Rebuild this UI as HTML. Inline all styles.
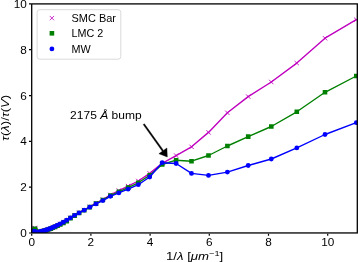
<!DOCTYPE html>
<html><head><meta charset="utf-8"><style>
html,body{margin:0;padding:0;background:#fff;}
svg{display:block;will-change:transform;}
text{font-family:"Liberation Sans",sans-serif;fill:#000;}
</style></head><body>
<svg width="358" height="262" viewBox="0 0 358 262">
<rect width="358" height="262" fill="#fff"/>
<defs><clipPath id="ax"><rect x="31.7" y="3.9" width="325.6" height="229.1"/></clipPath></defs>
<g clip-path="url(#ax)">
<polyline points="356.3,19.7 325.0,38.2 296.8,63.1 271.3,82.0 248.2,96.6 227.4,112.8 208.5,132.4 191.5,146.8 176.1,155.6 162.2,163.3 149.7,173.4 138.3,181.0 128.1,186.1 118.8,190.6 110.4,194.8 102.8,199.6 96.0,203.2 89.8,206.8 84.2,210.0 79.1,212.7 74.6,215.3 70.5,217.8 66.7,220.2 63.4,222.2 60.3,223.8 57.6,225.2 55.1,226.4 52.8,227.4 50.8,228.3 48.9,229.0 47.3,229.6 45.8,230.2 44.4,230.6 43.2,231.0 42.1,231.3 41.1,231.5 40.2,231.8 39.4,232.0 38.6,232.1 38.0,232.3 37.4,232.4 36.8,232.4 36.3,232.3 35.9,231.6 35.5,230.3 35.1,228.7 34.8,227.9 34.5,228.6 34.2,230.1 34.0,231.3 33.8,231.9 33.6,231.9 33.4,231.9 33.2,231.9 33.1,232.1 32.9,232.4 32.8,232.6 32.7,232.8 32.6,232.9 32.5,232.9 32.4,233.0 32.4,233.0 32.3,233.0 32.3,233.0 32.2,233.0 32.2,233.0 32.1,233.0 32.1,233.0 32.0,233.0 32.0,233.0 32.0,233.0 31.9,233.0 31.9,233.0 31.9,233.0 31.9,233.0 31.9,233.0 31.8,233.0 31.8,233.0 31.8,233.0 31.8,233.0 31.8,233.0 31.8,233.0 31.8,233.0 31.8,233.0 31.8,233.0 31.8,233.0 31.8,233.0 31.7,233.0 31.7,233.0 31.7,233.0 31.7,233.0 31.7,233.0 31.7,233.0 31.7,233.0 31.7,233.0" fill="none" stroke="#bf00bf" stroke-width="1.38" stroke-linejoin="round"/>
<path d="M354.1,17.6L358.4,21.8M354.1,21.8L358.4,17.6M322.9,36.1L327.2,40.4M322.9,40.4L327.2,36.1M294.6,61.0L298.9,65.2M294.6,65.2L298.9,61.0M269.1,79.8L273.4,84.2M269.1,84.2L273.4,79.8M246.1,94.4L250.4,98.8M246.1,98.8L250.4,94.4M225.2,110.6L229.5,115.0M225.2,115.0L229.5,110.6M206.4,130.2L210.7,134.6M206.4,134.6L210.7,130.2M189.4,144.7L193.7,149.0M189.4,149.0L193.7,144.7M174.0,153.4L178.3,157.8M174.0,157.8L178.3,153.4M160.1,161.2L164.4,165.5M160.1,165.5L164.4,161.2M147.5,171.2L151.8,175.6M147.5,175.6L151.8,171.2M136.2,178.8L140.5,183.2M136.2,183.2L140.5,178.8M125.9,183.9L130.2,188.2M125.9,188.2L130.2,183.9M116.6,188.4L120.9,192.8M116.6,192.8L120.9,188.4M108.3,192.7L112.6,197.0M108.3,197.0L112.6,192.7M100.7,197.4L105.0,201.8M100.7,201.8L105.0,197.4M93.8,201.0L98.1,205.3M93.8,205.3L98.1,201.0M87.6,204.7L91.9,209.0M87.6,209.0L91.9,204.7M82.1,207.8L86.4,212.2M82.1,212.2L86.4,207.8M77.0,210.5L81.3,214.8M77.0,214.8L81.3,210.5M72.4,213.2L76.7,217.5M72.4,217.5L76.7,213.2M68.3,215.7L72.6,220.0M68.3,220.0L72.6,215.7M64.6,218.1L68.9,222.4M64.6,222.4L68.9,218.1M61.2,220.0L65.5,224.3M61.2,224.3L65.5,220.0M58.2,221.7L62.5,226.0M58.2,226.0L62.5,221.7M55.4,223.1L59.7,227.4M55.4,227.4L59.7,223.1M52.9,224.3L57.2,228.6M52.9,228.6L57.2,224.3M50.7,225.3L55.0,229.6M50.7,229.6L55.0,225.3M48.6,226.2L52.9,230.5M48.6,230.5L52.9,226.2M46.8,226.9L51.1,231.2M46.8,231.2L51.1,226.9M45.1,227.5L49.4,231.8M45.1,231.8L49.4,227.5M43.6,228.0L47.9,232.3M43.6,232.3L47.9,228.0M42.3,228.4L46.6,232.7M42.3,232.7L46.6,228.4M41.1,228.8L45.4,233.1M41.1,233.1L45.4,228.8M39.9,229.1L44.2,233.4M39.9,233.4L44.2,229.1M38.9,229.4L43.2,233.7M38.9,233.7L43.2,229.4M38.0,229.6L42.3,233.9M38.0,233.9L42.3,229.6M37.2,229.8L41.5,234.1M37.2,234.1L41.5,229.8M36.5,230.0L40.8,234.3M36.5,234.3L40.8,230.0M35.8,230.1L40.1,234.4M35.8,234.4L40.1,230.1M35.2,230.2L39.5,234.5M35.2,234.5L39.5,230.2M34.7,230.3L39.0,234.6M34.7,234.6L39.0,230.3M34.2,230.1L38.5,234.4M34.2,234.4L38.5,230.1M33.7,229.5L38.0,233.8M33.7,233.8L38.0,229.5M33.3,228.2L37.6,232.5M33.3,232.5L37.6,228.2M33.0,226.6L37.3,230.9M33.0,230.9L37.3,226.6M32.6,225.8L36.9,230.1M32.6,230.1L36.9,225.8M32.3,226.4L36.6,230.7M32.3,230.7L36.6,226.4M32.1,228.0L36.4,232.3M32.1,232.3L36.4,228.0M31.8,229.2L36.1,233.5M31.8,233.5L36.1,229.2M31.6,229.7L35.9,234.0M31.6,234.0L35.9,229.7M31.4,229.8L35.7,234.1M31.4,234.1L35.7,229.8M31.2,229.7L35.5,234.0M31.2,234.0L35.5,229.7M31.1,229.8L35.4,234.1M31.1,234.1L35.4,229.8M30.9,230.0L35.2,234.3M30.9,234.3L35.2,230.0M30.8,230.3L35.1,234.6M30.8,234.6L35.1,230.3M30.7,230.5L35.0,234.8M30.7,234.8L35.0,230.5M30.6,230.7L34.9,235.0M30.6,235.0L34.9,230.7M30.5,230.8L34.8,235.1M30.5,235.1L34.8,230.8M30.4,230.8L34.7,235.1M30.4,235.1L34.7,230.8M30.3,230.8L34.6,235.1M30.3,235.1L34.6,230.8M30.2,230.8L34.5,235.1M30.2,235.1L34.5,230.8M30.2,230.8L34.5,235.1M30.2,235.1L34.5,230.8M30.1,230.8L34.4,235.1M30.1,235.1L34.4,230.8M30.0,230.8L34.3,235.1M30.0,235.1L34.3,230.8M30.0,230.8L34.3,235.1M30.0,235.1L34.3,230.8M30.0,230.8L34.3,235.1M30.0,235.1L34.3,230.8M29.9,230.8L34.2,235.1M29.9,235.1L34.2,230.8M29.9,230.8L34.2,235.1M29.9,235.1L34.2,230.8M29.9,230.8L34.2,235.1M29.9,235.1L34.2,230.8M29.8,230.8L34.1,235.1M29.8,235.1L34.1,230.8M29.8,230.8L34.1,235.1M29.8,235.1L34.1,230.8M29.8,230.8L34.1,235.1M29.8,235.1L34.1,230.8M29.8,230.8L34.1,235.1M29.8,235.1L34.1,230.8M29.7,230.8L34.0,235.1M29.7,235.1L34.0,230.8M29.7,230.8L34.0,235.1M29.7,235.1L34.0,230.8M29.7,230.8L34.0,235.1M29.7,235.1L34.0,230.8M29.7,230.8L34.0,235.1M29.7,235.1L34.0,230.8M29.7,230.8L34.0,235.1M29.7,235.1L34.0,230.8M29.7,230.8L34.0,235.1M29.7,235.1L34.0,230.8M29.6,230.8L33.9,235.1M29.6,235.1L33.9,230.8M29.6,230.8L33.9,235.1M29.6,235.1L33.9,230.8M29.6,230.8L33.9,235.1M29.6,235.1L33.9,230.8M29.6,230.8L33.9,235.1M29.6,235.1L33.9,230.8M29.6,230.8L33.9,235.1M29.6,235.1L33.9,230.8M29.6,230.8L33.9,235.1M29.6,235.1L33.9,230.8M29.6,230.8L33.9,235.1M29.6,235.1L33.9,230.8M29.6,230.8L33.9,235.1M29.6,235.1L33.9,230.8M29.6,230.8L33.9,235.1M29.6,235.1L33.9,230.8M29.6,230.8L33.9,235.1M29.6,235.1L33.9,230.8M29.6,230.8L33.9,235.1M29.6,235.1L33.9,230.8M29.6,230.8L33.9,235.1M29.6,235.1L33.9,230.8M29.6,230.8L33.9,235.1M29.6,235.1L33.9,230.8M29.6,230.8L33.9,235.1M29.6,235.1L33.9,230.8M29.6,230.8L33.9,235.1M29.6,235.1L33.9,230.8" stroke="#bf00bf" stroke-width="0.9" fill="none"/>
<polyline points="356.3,76.0 325.0,92.3 296.8,111.8 271.3,126.5 248.2,136.6 227.4,146.0 208.5,155.5 191.5,161.2 176.1,160.2 162.2,164.5 149.7,175.2 138.3,182.8 128.1,187.6 118.8,191.8 110.4,195.6 102.8,200.0 96.0,203.6 89.8,207.1 84.2,210.3 79.1,213.0 74.6,215.6 70.5,218.1 66.7,221.1 63.4,222.9 60.3,224.5 57.6,225.8 55.1,226.9 52.8,227.8 50.8,228.6 48.9,229.3 47.3,229.9 45.8,230.4 44.4,230.8 43.2,231.1 42.1,231.4 41.1,231.6 40.2,231.9 39.4,232.0 38.6,232.2 38.0,232.3 37.4,232.4 36.8,232.4 36.3,232.3 35.9,231.8 35.5,230.7 35.1,229.4 34.8,228.7 34.5,229.3 34.2,230.5 34.0,231.5 33.8,231.9 33.6,231.9 33.4,231.9 33.2,232.0 33.1,232.1 32.9,232.4 32.8,232.6 32.7,232.8 32.6,232.9 32.5,233.0 32.4,233.0 32.4,233.0 32.3,233.0 32.3,233.0 32.2,233.0 32.2,233.0 32.1,233.0 32.1,233.0 32.0,233.0 32.0,233.0 32.0,233.0 31.9,233.0 31.9,233.0 31.9,233.0 31.9,233.0 31.9,233.0 31.8,233.0 31.8,233.0 31.8,233.0 31.8,233.0 31.8,233.0 31.8,233.0 31.8,233.0 31.8,233.0 31.8,233.0 31.8,233.0 31.8,233.0 31.7,233.0 31.7,233.0 31.7,233.0 31.7,233.0 31.7,233.0 31.7,233.0 31.7,233.0 31.7,233.0" fill="none" stroke="#008000" stroke-width="1.38" stroke-linejoin="round"/>
<path d="M354.0,73.7h4.6v4.6h-4.6zM322.7,90.0h4.6v4.6h-4.6zM294.5,109.5h4.6v4.6h-4.6zM269.0,124.2h4.6v4.6h-4.6zM245.9,134.3h4.6v4.6h-4.6zM225.1,143.7h4.6v4.6h-4.6zM206.2,153.2h4.6v4.6h-4.6zM189.2,158.9h4.6v4.6h-4.6zM173.8,157.9h4.6v4.6h-4.6zM159.9,162.2h4.6v4.6h-4.6zM147.4,172.9h4.6v4.6h-4.6zM136.0,180.5h4.6v4.6h-4.6zM125.8,185.3h4.6v4.6h-4.6zM116.5,189.5h4.6v4.6h-4.6zM108.1,193.3h4.6v4.6h-4.6zM100.5,197.7h4.6v4.6h-4.6zM93.7,201.3h4.6v4.6h-4.6zM87.5,204.8h4.6v4.6h-4.6zM81.9,208.0h4.6v4.6h-4.6zM76.8,210.7h4.6v4.6h-4.6zM72.3,213.3h4.6v4.6h-4.6zM68.2,215.8h4.6v4.6h-4.6zM64.4,218.8h4.6v4.6h-4.6zM61.1,220.6h4.6v4.6h-4.6zM58.0,222.2h4.6v4.6h-4.6zM55.3,223.5h4.6v4.6h-4.6zM52.8,224.6h4.6v4.6h-4.6zM50.5,225.5h4.6v4.6h-4.6zM48.5,226.3h4.6v4.6h-4.6zM46.6,227.0h4.6v4.6h-4.6zM45.0,227.6h4.6v4.6h-4.6zM43.5,228.1h4.6v4.6h-4.6zM42.1,228.5h4.6v4.6h-4.6zM40.9,228.8h4.6v4.6h-4.6zM39.8,229.1h4.6v4.6h-4.6zM38.8,229.3h4.6v4.6h-4.6zM37.9,229.6h4.6v4.6h-4.6zM37.1,229.7h4.6v4.6h-4.6zM36.3,229.9h4.6v4.6h-4.6zM35.7,230.0h4.6v4.6h-4.6zM35.1,230.1h4.6v4.6h-4.6zM34.5,230.1h4.6v4.6h-4.6zM34.0,230.0h4.6v4.6h-4.6zM33.6,229.5h4.6v4.6h-4.6zM33.2,228.4h4.6v4.6h-4.6zM32.8,227.1h4.6v4.6h-4.6zM32.5,226.4h4.6v4.6h-4.6zM32.2,227.0h4.6v4.6h-4.6zM31.9,228.2h4.6v4.6h-4.6zM31.7,229.2h4.6v4.6h-4.6zM31.5,229.6h4.6v4.6h-4.6zM31.3,229.6h4.6v4.6h-4.6zM31.1,229.6h4.6v4.6h-4.6zM30.9,229.7h4.6v4.6h-4.6zM30.8,229.8h4.6v4.6h-4.6zM30.6,230.1h4.6v4.6h-4.6zM30.5,230.3h4.6v4.6h-4.6zM30.4,230.5h4.6v4.6h-4.6zM30.3,230.6h4.6v4.6h-4.6zM30.2,230.7h4.6v4.6h-4.6zM30.1,230.7h4.6v4.6h-4.6zM30.1,230.7h4.6v4.6h-4.6zM30.0,230.7h4.6v4.6h-4.6zM30.0,230.7h4.6v4.6h-4.6zM29.9,230.7h4.6v4.6h-4.6zM29.9,230.7h4.6v4.6h-4.6zM29.8,230.7h4.6v4.6h-4.6zM29.8,230.7h4.6v4.6h-4.6zM29.7,230.7h4.6v4.6h-4.6zM29.7,230.7h4.6v4.6h-4.6zM29.7,230.7h4.6v4.6h-4.6zM29.6,230.7h4.6v4.6h-4.6zM29.6,230.7h4.6v4.6h-4.6zM29.6,230.7h4.6v4.6h-4.6zM29.6,230.7h4.6v4.6h-4.6zM29.6,230.7h4.6v4.6h-4.6zM29.5,230.7h4.6v4.6h-4.6zM29.5,230.7h4.6v4.6h-4.6zM29.5,230.7h4.6v4.6h-4.6zM29.5,230.7h4.6v4.6h-4.6zM29.5,230.7h4.6v4.6h-4.6zM29.5,230.7h4.6v4.6h-4.6zM29.5,230.7h4.6v4.6h-4.6zM29.5,230.7h4.6v4.6h-4.6zM29.5,230.7h4.6v4.6h-4.6zM29.5,230.7h4.6v4.6h-4.6zM29.5,230.7h4.6v4.6h-4.6zM29.4,230.7h4.6v4.6h-4.6zM29.4,230.7h4.6v4.6h-4.6zM29.4,230.7h4.6v4.6h-4.6zM29.4,230.7h4.6v4.6h-4.6zM29.4,230.7h4.6v4.6h-4.6zM29.4,230.7h4.6v4.6h-4.6zM29.4,230.7h4.6v4.6h-4.6zM29.4,230.7h4.6v4.6h-4.6z" fill="#008000"/>
<polyline points="356.3,122.7 325.0,134.5 296.8,147.9 271.3,159.0 248.2,165.5 227.4,172.1 208.5,175.4 191.5,173.4 176.1,163.5 162.2,162.7 149.7,177.0 138.3,184.7 128.1,189.2 118.8,192.9 110.4,196.3 102.8,200.6 96.0,203.9 89.8,207.2 84.2,210.2 79.1,212.8 74.6,215.3 70.5,217.8 66.7,220.2 63.4,222.2 60.3,223.8 57.6,225.2 55.1,226.4 52.8,227.4 50.8,228.3 48.9,229.0 47.3,229.6 45.8,230.2 44.4,230.6 43.2,231.0 42.1,231.3 41.1,231.5 40.2,231.8 39.4,232.0 38.6,232.1 38.0,232.3 37.4,232.4 36.8,232.4 36.3,232.5 35.9,232.3 35.5,232.0 35.1,231.6 34.8,231.4 34.5,231.5 34.2,231.8 34.0,232.1 33.8,232.1 33.6,232.0 33.4,231.9 33.2,231.9 33.1,232.1 32.9,232.4 32.8,232.6 32.7,232.8 32.6,232.9 32.5,232.9 32.4,233.0 32.4,233.0 32.3,233.0 32.3,233.0 32.2,233.0 32.2,233.0 32.1,233.0 32.1,233.0 32.0,233.0 32.0,233.0 32.0,233.0 31.9,233.0 31.9,233.0 31.9,233.0 31.9,233.0 31.9,233.0 31.8,233.0 31.8,233.0 31.8,233.0 31.8,233.0 31.8,233.0 31.8,233.0 31.8,233.0 31.8,233.0 31.8,233.0 31.8,233.0 31.8,233.0 31.7,233.0 31.7,233.0 31.7,233.0 31.7,233.0 31.7,233.0 31.7,233.0 31.7,233.0 31.7,233.0" fill="none" stroke="#0000ff" stroke-width="1.38" stroke-linejoin="round"/>
<circle cx="356.3" cy="122.7" r="2.40" fill="#0000ff"/>
<circle cx="325.0" cy="134.5" r="2.40" fill="#0000ff"/>
<circle cx="296.8" cy="147.9" r="2.40" fill="#0000ff"/>
<circle cx="271.3" cy="159.0" r="2.40" fill="#0000ff"/>
<circle cx="248.2" cy="165.5" r="2.40" fill="#0000ff"/>
<circle cx="227.4" cy="172.1" r="2.40" fill="#0000ff"/>
<circle cx="208.5" cy="175.4" r="2.40" fill="#0000ff"/>
<circle cx="191.5" cy="173.4" r="2.40" fill="#0000ff"/>
<circle cx="176.1" cy="163.5" r="2.40" fill="#0000ff"/>
<circle cx="162.2" cy="162.7" r="2.40" fill="#0000ff"/>
<circle cx="149.7" cy="177.0" r="2.40" fill="#0000ff"/>
<circle cx="138.3" cy="184.7" r="2.40" fill="#0000ff"/>
<circle cx="128.1" cy="189.2" r="2.40" fill="#0000ff"/>
<circle cx="118.8" cy="192.9" r="2.40" fill="#0000ff"/>
<circle cx="110.4" cy="196.3" r="2.40" fill="#0000ff"/>
<circle cx="102.8" cy="200.6" r="2.40" fill="#0000ff"/>
<circle cx="96.0" cy="203.9" r="2.40" fill="#0000ff"/>
<circle cx="89.8" cy="207.2" r="2.40" fill="#0000ff"/>
<circle cx="84.2" cy="210.2" r="2.40" fill="#0000ff"/>
<circle cx="79.1" cy="212.8" r="2.40" fill="#0000ff"/>
<circle cx="74.6" cy="215.3" r="2.40" fill="#0000ff"/>
<circle cx="70.5" cy="217.8" r="2.40" fill="#0000ff"/>
<circle cx="66.7" cy="220.2" r="2.40" fill="#0000ff"/>
<circle cx="63.4" cy="222.2" r="2.40" fill="#0000ff"/>
<circle cx="60.3" cy="223.8" r="2.40" fill="#0000ff"/>
<circle cx="57.6" cy="225.2" r="2.40" fill="#0000ff"/>
<circle cx="55.1" cy="226.4" r="2.40" fill="#0000ff"/>
<circle cx="52.8" cy="227.4" r="2.40" fill="#0000ff"/>
<circle cx="50.8" cy="228.3" r="2.40" fill="#0000ff"/>
<circle cx="48.9" cy="229.0" r="2.40" fill="#0000ff"/>
<circle cx="47.3" cy="229.6" r="2.40" fill="#0000ff"/>
<circle cx="45.8" cy="230.2" r="2.40" fill="#0000ff"/>
<circle cx="44.4" cy="230.6" r="2.40" fill="#0000ff"/>
<circle cx="43.2" cy="231.0" r="2.40" fill="#0000ff"/>
<circle cx="42.1" cy="231.3" r="2.40" fill="#0000ff"/>
<circle cx="41.1" cy="231.5" r="2.40" fill="#0000ff"/>
<circle cx="40.2" cy="231.8" r="2.40" fill="#0000ff"/>
<circle cx="39.4" cy="232.0" r="2.40" fill="#0000ff"/>
<circle cx="38.6" cy="232.1" r="2.40" fill="#0000ff"/>
<circle cx="38.0" cy="232.3" r="2.40" fill="#0000ff"/>
<circle cx="37.4" cy="232.4" r="2.40" fill="#0000ff"/>
<circle cx="36.8" cy="232.4" r="2.40" fill="#0000ff"/>
<circle cx="36.3" cy="232.5" r="2.40" fill="#0000ff"/>
<circle cx="35.9" cy="232.3" r="2.40" fill="#0000ff"/>
<circle cx="35.5" cy="232.0" r="2.40" fill="#0000ff"/>
<circle cx="35.1" cy="231.6" r="2.40" fill="#0000ff"/>
<circle cx="34.8" cy="231.4" r="2.40" fill="#0000ff"/>
<circle cx="34.5" cy="231.5" r="2.40" fill="#0000ff"/>
<circle cx="34.2" cy="231.8" r="2.40" fill="#0000ff"/>
<circle cx="34.0" cy="232.1" r="2.40" fill="#0000ff"/>
<circle cx="33.8" cy="232.1" r="2.40" fill="#0000ff"/>
<circle cx="33.6" cy="232.0" r="2.40" fill="#0000ff"/>
<circle cx="33.4" cy="231.9" r="2.40" fill="#0000ff"/>
<circle cx="33.2" cy="231.9" r="2.40" fill="#0000ff"/>
<circle cx="33.1" cy="232.1" r="2.40" fill="#0000ff"/>
<circle cx="32.9" cy="232.4" r="2.40" fill="#0000ff"/>
<circle cx="32.8" cy="232.6" r="2.40" fill="#0000ff"/>
<circle cx="32.7" cy="232.8" r="2.40" fill="#0000ff"/>
<circle cx="32.6" cy="232.9" r="2.40" fill="#0000ff"/>
<circle cx="32.5" cy="232.9" r="2.40" fill="#0000ff"/>
<circle cx="32.4" cy="233.0" r="2.40" fill="#0000ff"/>
<circle cx="32.4" cy="233.0" r="2.40" fill="#0000ff"/>
<circle cx="32.3" cy="233.0" r="2.40" fill="#0000ff"/>
<circle cx="32.3" cy="233.0" r="2.40" fill="#0000ff"/>
<circle cx="32.2" cy="233.0" r="2.40" fill="#0000ff"/>
<circle cx="32.2" cy="233.0" r="2.40" fill="#0000ff"/>
<circle cx="32.1" cy="233.0" r="2.40" fill="#0000ff"/>
<circle cx="32.1" cy="233.0" r="2.40" fill="#0000ff"/>
<circle cx="32.0" cy="233.0" r="2.40" fill="#0000ff"/>
<circle cx="32.0" cy="233.0" r="2.40" fill="#0000ff"/>
<circle cx="32.0" cy="233.0" r="2.40" fill="#0000ff"/>
<circle cx="31.9" cy="233.0" r="2.40" fill="#0000ff"/>
<circle cx="31.9" cy="233.0" r="2.40" fill="#0000ff"/>
<circle cx="31.9" cy="233.0" r="2.40" fill="#0000ff"/>
<circle cx="31.9" cy="233.0" r="2.40" fill="#0000ff"/>
<circle cx="31.9" cy="233.0" r="2.40" fill="#0000ff"/>
<circle cx="31.8" cy="233.0" r="2.40" fill="#0000ff"/>
<circle cx="31.8" cy="233.0" r="2.40" fill="#0000ff"/>
<circle cx="31.8" cy="233.0" r="2.40" fill="#0000ff"/>
<circle cx="31.8" cy="233.0" r="2.40" fill="#0000ff"/>
<circle cx="31.8" cy="233.0" r="2.40" fill="#0000ff"/>
<circle cx="31.8" cy="233.0" r="2.40" fill="#0000ff"/>
<circle cx="31.8" cy="233.0" r="2.40" fill="#0000ff"/>
<circle cx="31.8" cy="233.0" r="2.40" fill="#0000ff"/>
<circle cx="31.8" cy="233.0" r="2.40" fill="#0000ff"/>
<circle cx="31.8" cy="233.0" r="2.40" fill="#0000ff"/>
<circle cx="31.8" cy="233.0" r="2.40" fill="#0000ff"/>
<circle cx="31.7" cy="233.0" r="2.40" fill="#0000ff"/>
<circle cx="31.7" cy="233.0" r="2.40" fill="#0000ff"/>
<circle cx="31.7" cy="233.0" r="2.40" fill="#0000ff"/>
<circle cx="31.7" cy="233.0" r="2.40" fill="#0000ff"/>
<circle cx="31.7" cy="233.0" r="2.40" fill="#0000ff"/>
<circle cx="31.7" cy="233.0" r="2.40" fill="#0000ff"/>
<circle cx="31.7" cy="233.0" r="2.40" fill="#0000ff"/>
<circle cx="31.7" cy="233.0" r="2.40" fill="#0000ff"/>
</g>
<rect x="31.7" y="3.9" width="325.6" height="229.05" fill="none" stroke="#000" stroke-width="1.3"/>
<path d="M31.70,233.7v2.0M31,233.00h-2.0M90.90,233.7v2.0M31,187.18h-2.0M150.10,233.7v2.0M31,141.36h-2.0M209.30,233.7v2.0M31,95.54h-2.0M268.50,233.7v2.0M31,49.72h-2.0M327.70,233.7v2.0M31,3.90h-2.0" stroke="#000" stroke-width="1.2" fill="none"/>
<text transform="translate(31.7,245.5) scale(1.08,1.03)" font-size="10.9" text-anchor="middle">0</text>
<text transform="translate(26.9,237.0) scale(1.08,1.03)" font-size="10.9" text-anchor="end">0</text>
<text transform="translate(90.9,245.5) scale(1.08,1.03)" font-size="10.9" text-anchor="middle">2</text>
<text transform="translate(26.9,191.2) scale(1.08,1.03)" font-size="10.9" text-anchor="end">2</text>
<text transform="translate(150.1,245.5) scale(1.08,1.03)" font-size="10.9" text-anchor="middle">4</text>
<text transform="translate(26.9,145.4) scale(1.08,1.03)" font-size="10.9" text-anchor="end">4</text>
<text transform="translate(209.3,245.5) scale(1.08,1.03)" font-size="10.9" text-anchor="middle">6</text>
<text transform="translate(26.9,99.5) scale(1.08,1.03)" font-size="10.9" text-anchor="end">6</text>
<text transform="translate(268.5,245.5) scale(1.08,1.03)" font-size="10.9" text-anchor="middle">8</text>
<text transform="translate(26.9,53.7) scale(1.08,1.03)" font-size="10.9" text-anchor="end">8</text>
<text transform="translate(327.7,245.5) scale(1.08,1.03)" font-size="10.9" text-anchor="middle">10</text>
<text transform="translate(26.9,7.9) scale(1.08,1.03)" font-size="10.9" text-anchor="end">10</text>
<text transform="translate(194.6,259.5) scale(1.215,1)" font-size="10.9" text-anchor="middle">1/<tspan font-style="italic">λ</tspan> [<tspan font-style="italic">μm</tspan><tspan font-size="7.6" dy="-4">−1</tspan><tspan dy="4">]</tspan></text>
<text transform="translate(9.3,117.9) rotate(-90) scale(1.2,1)" font-size="10.9" text-anchor="middle"><tspan font-style="italic">τ</tspan>(<tspan font-style="italic">λ</tspan>)/<tspan font-style="italic">τ</tspan>(<tspan font-style="italic">V</tspan>)</text>
<rect x="37.1" y="9.7" width="83.7" height="49.5" rx="2.6" ry="2.6" fill="#fff" fill-opacity="0.8" stroke="#dadada" stroke-width="1"/>
<path d="M49.75,15.950000000000001L54.05,20.25M49.75,20.25L54.05,15.950000000000001" stroke="#bf00bf" stroke-width="0.8"/>
<rect x="49.6" y="30.999999999999996" width="4.6" height="4.6" fill="#008000"/>
<circle cx="51.9" cy="48.95" r="2.4" fill="#0000ff"/>
<text x="71.5" y="21.8" font-size="11.2" textLength="44.5" lengthAdjust="spacingAndGlyphs">SMC Bar</text>
<text x="71.5" y="37.2" font-size="11.2" textLength="31.7" lengthAdjust="spacingAndGlyphs">LMC 2</text>
<text x="71.5" y="52.6" font-size="11.2" textLength="19.2" lengthAdjust="spacingAndGlyphs">MW</text>
<text x="70.1" y="118.6" font-size="10.9" textLength="71.6" lengthAdjust="spacingAndGlyphs">2175 <tspan font-style="italic">Å</tspan> bump</text>
<polygon points="143.2,124.6 162.3,151.3 158.9,153.7 167.3,157.0 166.9,148.0 163.5,150.4 144.4,123.8" fill="#000" stroke="#000" stroke-width="0.4" stroke-linejoin="miter"/>
</svg></body></html>
